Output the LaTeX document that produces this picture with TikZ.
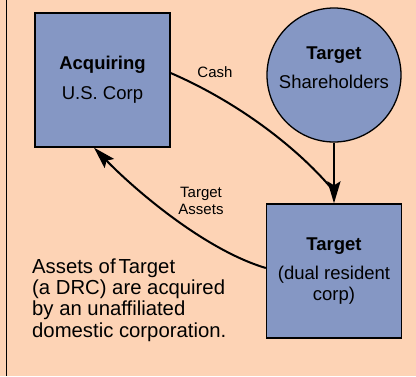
\documentclass[tikz,border=0pt]{standalone}
\usepackage{fontspec}
\setmainfont{Liberation Sans}
\usetikzlibrary{arrows.meta}
\definecolor{peach}{HTML}{FDD3B5}
\definecolor{boxblue}{HTML}{8597C4}
\begin{document}
\begin{tikzpicture}[x=1pt,y=-1pt,
  entity/.style={draw=black,line width=1.3pt,fill=boxblue,minimum width=135pt,minimum height=134pt,inner sep=0pt,align=center,font=\fontsize{18.5}{21}\selectfont},
  flow/.style={line width=2pt},
  tip/.style={-{Stealth[length=22pt,width=13pt,inset=4pt]}},
  lbl/.style={font=\fontsize{15}{17}\selectfont,align=center,inner sep=0pt},
  note/.style={font=\fontsize{20.3}{21.2}\selectfont,align=left,inner sep=0pt,anchor=west}]
\fill[peach] (0,0) rectangle (416,376);
\useasboundingbox (0,0) rectangle (416,376);
\draw[line width=1.5pt] (6.5,0) -- (6.5,376);
\node[entity] (acq) at (102.5,80) {\textbf{Acquiring}\\[9pt]U.S. Corp};
\node[entity,circle,minimum size=134pt] (sh) at (334,75) {};
\node[lbl,font=\fontsize{18.5}{21}\selectfont] (shtext) at (334,68) {\textbf{Target}\\[8pt]Shareholders};
\node[entity] (tgt) at (334,271) {\textbf{Target}\\[8pt](dual resident\\corp)};
\draw[flow,tip] (sh.south) -- (tgt.north);
\draw[flow] ([yshift=7pt]acq.east) .. controls (240,103) and (300,150) .. ([yshift=12pt]tgt.north);
\draw[flow,tip] ([yshift=3pt]tgt.west) .. controls (205,250) and (135,190) .. ([xshift=-8.5pt]acq.south);
\node[lbl] (cash) at (215,72) {Cash};
\node[lbl] (assets) at (201,200.5) {Target\\Assets};
\node[note] (desc) at (32,300) {Assets of\kern0.15em Target\\(a DRC) are acquired\\by an unaffiliated\\domestic corporation.};
\end{tikzpicture}
\end{document}
